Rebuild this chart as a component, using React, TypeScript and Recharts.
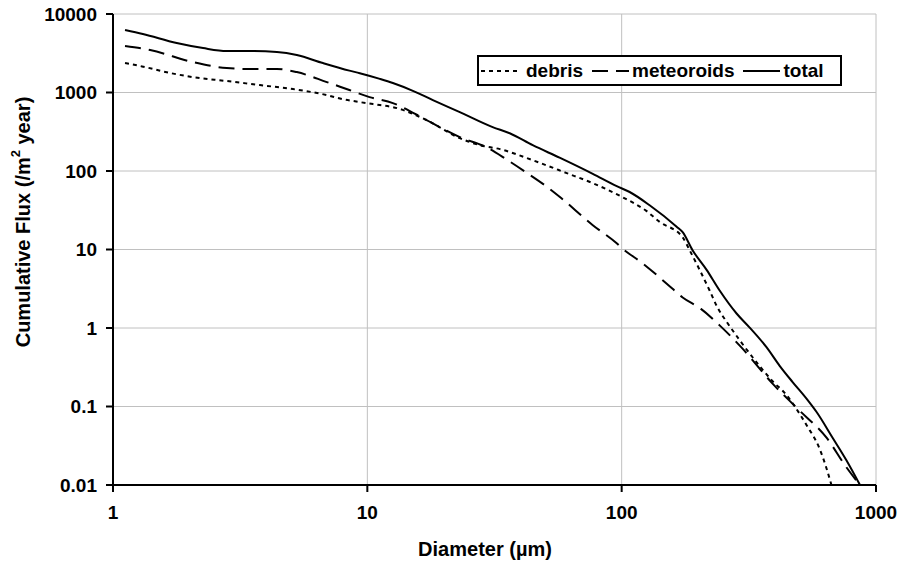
import React from 'react';
import { LineChart, Line, XAxis, YAxis, CartesianGrid } from 'recharts';

// diameter (µm) / cumulative flux (/m² year)
const totalDiameter = [1.115, 1.31, 1.78, 2.26, 2.8, 3.45, 4.41, 5.28, 6.69, 8.5, 9.34, 11.2, 12.6, 15.1, 18.1, 23.1, 31.1, 36.3, 44.7, 57, 77, 95.6, 107.5, 128.8, 164.5, 173.7, 190, 215.8, 242.8, 283, 318, 371, 418, 470, 534, 584, 675, 766, 865];
const totalFlux = [6250, 5560, 4270, 3680, 3380, 3380, 3280, 3000, 2370, 1900, 1760, 1490, 1320, 1050, 800, 562, 362, 303, 213, 148, 92, 64, 54, 36.6, 19.5, 16.6, 9.8, 5.5, 3.0, 1.53, 1.02, 0.57, 0.33, 0.205, 0.125, 0.085, 0.04, 0.0205, 0.01];

const meteoroidDiameter = [1.115, 1.4, 2.06, 2.8, 3.45, 4.41, 5.28, 6.93, 8.5, 10.2, 12.6, 17.1, 23.1, 29.5, 35.3, 42.3, 50.8, 57, 77, 95.6, 100, 120.9, 150, 173.7, 205, 242.8, 295, 392, 500, 639, 766, 865];
const meteoroidFlux = [3910, 3475, 2440, 2046, 1990, 1990, 1820, 1357, 1074, 874, 733, 445, 270, 200, 140, 95, 63, 47, 20.4, 12, 10.5, 6.67, 3.7, 2.45, 1.75, 1.08, 0.57, 0.196, 0.089, 0.04, 0.0167, 0.01];

const debrisDiameter = [1.115, 1.3, 1.68, 2.06, 2.8, 3.78, 5.1, 6.93, 8.0, 9.34, 11.2, 12.6, 17.1, 23.1, 27.7, 33.2, 44.7, 60.8, 77, 100, 125, 141, 173.7, 185, 202.6, 221.7, 238, 261, 291, 348, 392, 445, 470, 533, 600, 640, 668];
const debrisFlux = [2370, 2150, 1770, 1570, 1400, 1243, 1105, 927, 824, 755, 691, 652, 445, 262, 213, 190, 137, 94, 70, 47, 31, 22.5, 14.3, 9.8, 5.5, 3.0, 1.83, 1.15, 0.7, 0.33, 0.21, 0.14, 0.11, 0.058, 0.029, 0.016, 0.01];

const xTicks = [1, 10, 100, 1000];
const yTicks = [0.01, 0.1, 1, 10, 100, 1000, 10000];

const toPoints = (xs: number[], ys: number[]) => xs.map((d, i) => ({ diameter: d, flux: ys[i] }));

const series = [
  { name: 'debris', data: toPoints(debrisDiameter, debrisFlux), dash: '4 4' },
  { name: 'meteoroids', data: toPoints(meteoroidDiameter, meteoroidFlux), dash: '16 8' },
  { name: 'total', data: toPoints(totalDiameter, totalFlux), dash: undefined as string | undefined },
];

const FONT = '"Liberation Sans", Arial, sans-serif';
const tickStyle = { fill: '#000', fontSize: 19, fontWeight: 700, fontFamily: FONT };

const LegendBox = () => (
  <div
    style={{
      position: 'absolute',
      left: 477,
      top: 55,
      display: 'flex',
      alignItems: 'center',
      height: 27,
      width: 361,
      border: '2px solid #000',
      background: '#fff',
      fontFamily: FONT,
      fontWeight: 700,
      fontSize: 19,
      color: '#000',
      whiteSpace: 'nowrap',
    }}
  >
    {series.map((s, i) => (
      <div key={s.name} style={{ display: 'flex', alignItems: 'center', marginLeft: i === 0 ? 2 : 9 }}>
        <svg width={37} height={10}>
          <line x1={0} y1={5} x2={37} y2={5} stroke="#000" strokeWidth={2} strokeDasharray={s.dash} />
        </svg>
        <span style={{ marginLeft: i === 0 ? 8 : 3 }}>{s.name}</span>
      </div>
    ))}
  </div>
);

const YTitle = () => (
  <text
    x={23}
    y={222}
    transform="rotate(-90, 23, 222)"
    textAnchor="middle"
    dominantBaseline="central"
    style={{ fontFamily: FONT, fontWeight: 700, fontSize: 20, fill: '#000' }}
  >
    Cumulative Flux (/m
    <tspan dy={-8} fontSize={13}>2</tspan>
    <tspan dy={8}> year)</tspan>
  </text>
);

const XTitle = () => (
  <text
    x={485}
    y={556}
    textAnchor="middle"
    style={{ fontFamily: FONT, fontWeight: 700, fontSize: 20, fill: '#000' }}
  >
    Diameter (µm)
  </text>
);

export default function App() {
  return (
    <div style={{ position: 'absolute', left: 0, top: 0, width: 899, height: 567, background: '#fff' }}>
      <LineChart width={899} height={567} margin={{ top: 14, right: 23, left: 13, bottom: 22 }}>
        <CartesianGrid stroke="#c0c0c0" strokeWidth={1} />
        <XAxis
          dataKey="diameter"
          type="number"
          scale="log"
          domain={[1, 1000]}
          ticks={xTicks}
          allowDataOverflow
          height={60}
          axisLine={{ stroke: '#000', strokeWidth: 2 }}
          tickLine={{ stroke: '#000', strokeWidth: 2 }}
          tickSize={7}
          tickMargin={14}
          tick={tickStyle}
          interval={0}
          label={{ content: () => <XTitle /> }}
        />
        <YAxis
          dataKey="flux"
          type="number"
          scale="log"
          domain={[0.01, 10000]}
          ticks={yTicks}
          allowDataOverflow
          width={100}
          axisLine={{ stroke: '#000', strokeWidth: 2 }}
          tickLine={{ stroke: '#000', strokeWidth: 2 }}
          tickSize={7}
          tickMargin={9}
          tick={tickStyle}
          interval={0}
          tickFormatter={(v: number) => String(v)}
          label={{ content: () => <YTitle /> }}
        />
        {series.map((s) => (
          <Line
            key={s.name}
            data={s.data}
            dataKey="flux"
            name={s.name}
            type="monotone"
            stroke="#000"
            strokeWidth={2}
            strokeDasharray={s.dash}
            dot={false}
            activeDot={false}
            isAnimationActive={false}
          />
        ))}
      </LineChart>
      <LegendBox />
    </div>
  );
}
